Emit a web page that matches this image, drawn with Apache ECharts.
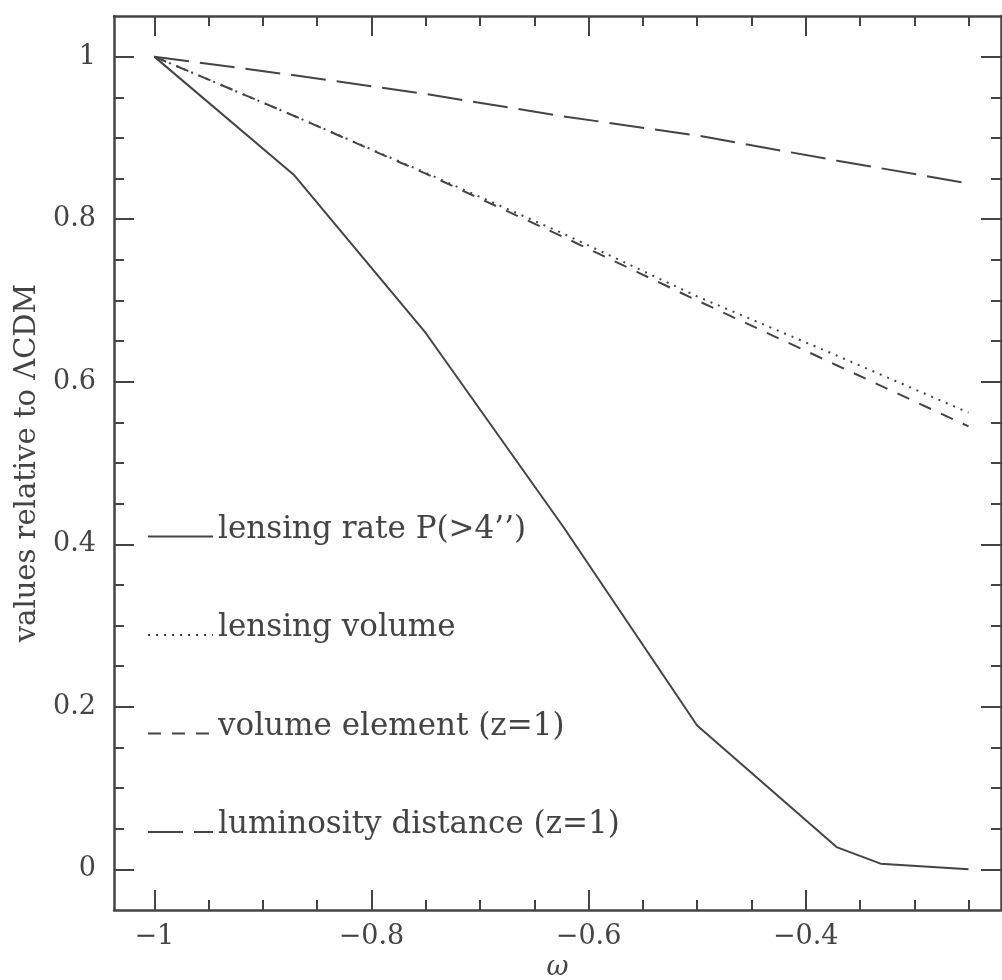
<!DOCTYPE html>
<html>
<head>
<meta charset="utf-8">
<script src="https://cdn.jsdelivr.net/npm/echarts@6/dist/echarts.min.js"></script>
<style>
  html, body { margin: 0; padding: 0; background: #fff; }
  #main { width: 1002px; height: 980px; }
</style>
</head>
<body>
<div id="main"></div>
<script>
  // values
  var omegaRate = [-1, -0.871, -0.75, -0.623, -0.5, -0.371, -0.331, -0.25];
  var lensingRate = [1, 0.854, 0.66, 0.421, 0.177, 0.027, 0.007, 0];

  var omega = [-1, -0.871, -0.75, -0.623, -0.5, -0.371, -0.25];
  var lensingVolume = [1, 0.927, 0.857, 0.782, 0.705, 0.632, 0.562];
  var volumeElement = [1, 0.927, 0.856, 0.778, 0.700, 0.620, 0.545];
  var lumDistance = [1, 0.977, 0.954, 0.9265, 0.903, 0.872, 0.844];

  var xMajor = [-1, -0.8, -0.6, -0.4];
  var xMinor = [-1, -0.95, -0.9, -0.85, -0.8, -0.75, -0.7, -0.65, -0.6, -0.55, -0.5, -0.45, -0.4, -0.35, -0.3, -0.25];
  var yMajor = [0, 0.2, 0.4, 0.6, 0.8, 1];
  var yMinor = [0, 0.05, 0.1, 0.15, 0.2, 0.25, 0.3, 0.35, 0.4, 0.45, 0.5, 0.55, 0.6, 0.65, 0.7, 0.75, 0.8, 0.85, 0.9, 0.95, 1];

  var ink = '#444';
  var font = 'DejaVu Serif';
  var xMin = -1.0371, xMax = -0.2201;
  var yMin = -0.05, yMax = 1.05;

  function pairs(xs, ys) {
    return xs.map(function (x, i) { return [x, ys[i]]; });
  }
  function minus(v) {
    return String(v).replace('-', '\u2212');
  }

  // one axis with long ticks (+labels), one with short ticks, on each side
  function xAx(pos, ticks, len, main) {
    return {
      type: 'value', position: pos, min: xMin, max: xMax,
      name: main ? '\u03c9' : '', nameLocation: 'middle', nameGap: 41,
      nameTextStyle: { fontFamily: font, fontSize: 27, fontStyle: 'italic', color: ink },
      axisLine: { show: len === 20, onZero: false, lineStyle: { color: ink, width: 2.5 } },
      axisTick: { show: true, inside: true, length: len, customValues: ticks, lineStyle: { color: ink, width: 2 } },
      axisLabel: { show: main, customValues: xMajor, margin: 13, fontFamily: font, fontSize: 27, color: ink, formatter: minus },
      splitLine: { show: false }
    };
  }
  function yAx(pos, ticks, len, main) {
    return {
      type: 'value', position: pos, min: yMin, max: yMax,
      name: main ? 'values relative to \u039bCDM' : '', nameLocation: 'middle', nameGap: 72,
      nameTextStyle: { fontFamily: font, fontSize: 29, color: ink },
      axisLine: { show: len === 20, onZero: false, lineStyle: { color: ink, width: 2.5 } },
      axisTick: { show: true, inside: true, length: len, customValues: ticks, lineStyle: { color: ink, width: 2 } },
      axisLabel: { show: main, customValues: yMajor, margin: 18, fontFamily: font, fontSize: 27, color: ink },
      splitLine: { show: false }
    };
  }

  function lineSeries(name, data, dash) {
    return {
      name: name, type: 'line', data: data, symbol: 'none', silent: true,
      xAxisIndex: 0, yAxisIndex: 0,
      lineStyle: { color: ink, width: 2, type: dash },
      itemStyle: { color: ink }
    };
  }

  var chart = echarts.init(document.getElementById('main'));
  chart.setOption({
    animation: false,
    backgroundColor: '#fff',
    grid: { left: 114, right: 1, top: 16, bottom: 70, outerBoundsMode: 'none' },
    xAxis: [
      xAx('bottom', xMajor, 20, true),
      xAx('bottom', xMinor, 10, false),
      xAx('top', xMajor, 20, false),
      xAx('top', xMinor, 10, false)
    ],
    yAxis: [
      yAx('left', yMajor, 20, true),
      yAx('left', yMinor, 10, false),
      yAx('right', yMajor, 20, false),
      yAx('right', yMinor, 10, false)
    ],
    legend: {
      orient: 'vertical', left: 142, top: 509,
      itemWidth: 65, itemHeight: 14, itemGap: 55,
      selectedMode: false,
      itemStyle: { opacity: 0 },
      // text sits on the sample line, so push it up with an empty second line
      formatter: function (name) { return '{t|' + name + '}\n{s| }'; },
      textStyle: {
        fontFamily: font, fontSize: 31, color: ink,
        rich: {
          t: { fontFamily: font, fontSize: 31, color: ink, lineHeight: 34 },
          s: { fontSize: 8, lineHeight: 14 }
        }
      },
      data: ['lensing rate P(>4\u2019\u2019)', 'lensing volume', 'volume element (z=1)', 'luminosity distance (z=1)']
    },
    series: [
      lineSeries('lensing rate P(>4\u2019\u2019)', pairs(omegaRate, lensingRate), 'solid'),
      lineSeries('lensing volume', pairs(omega, lensingVolume), [2, 6]),
      lineSeries('volume element (z=1)', pairs(omega, volumeElement), [13, 11]),
      lineSeries('luminosity distance (z=1)', pairs(omega, lumDistance), [35, 11])
    ]
  });
</script>
</body>
</html>
